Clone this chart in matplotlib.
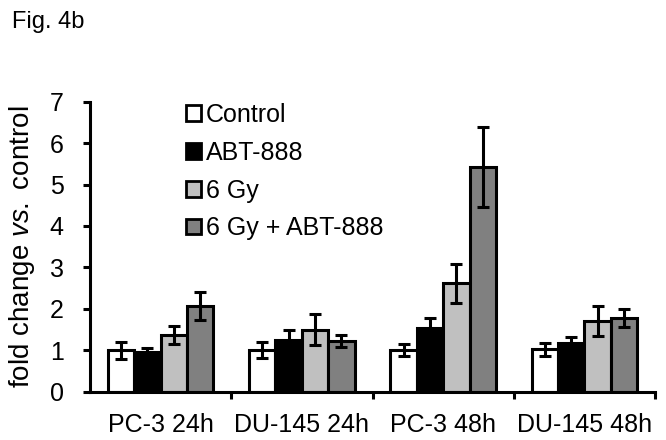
import numpy as np
import matplotlib
matplotlib.use("Agg")
import matplotlib.pyplot as plt

plt.rcParams["font.family"] = ["Liberation Sans", "DejaVu Sans"]
plt.rcParams["mathtext.fontset"] = "custom"
plt.rcParams["mathtext.rm"] = "Liberation Sans"
plt.rcParams["mathtext.it"] = "Liberation Sans:italic"

# data
groups = ["PC-3 24h", "DU-145 24h", "PC-3 48h", "DU-145 48h"]
series = ["Control", "ABT-888", "6 Gy", "6 Gy + ABT-888"]
control = [1.0, 1.01, 1.0, 1.02]
control_err = [0.21, 0.20, 0.14, 0.16]
abt = [0.96, 1.26, 1.53, 1.17]
abt_err = [0.10, 0.24, 0.26, 0.16]
gy6 = [1.37, 1.50, 2.62, 1.71]
gy6_err = [0.21, 0.37, 0.47, 0.37]
combo = [2.07, 1.22, 5.42, 1.77]
combo_err = [0.33, 0.14, 0.97, 0.22]

colors = ["white", "black", "#c0c0c0", "#808080"]
values = [control, abt, gy6, combo]
errors = [control_err, abt_err, gy6_err, combo_err]

fs = 18
fig = plt.figure(figsize=(6.66, 4.4), dpi=100)
ax = fig.add_axes([90 / 666, 1 - 391.7 / 440, 565 / 666, 290 / 440])

x = np.arange(len(groups))
w = 0.187
for i in range(4):
    ax.bar(x + (i - 1.5) * w, values[i], w, color=colors[i], edgecolor="black",
           linewidth=2.2, label=series[i], zorder=2)
    ax.errorbar(x + (i - 1.5) * w, values[i], yerr=errors[i], fmt="none",
                ecolor="black", elinewidth=2.2, capsize=4.6, capthick=2.2, zorder=3)

ax.set_xlim(-0.5, 3.5)
ax.set_ylim(0, 7)
ax.set_yticks(range(8))
ax.set_xticks(x)
ax.set_xticklabels(groups, fontsize=fs)
ax.set_xticks([0.5, 1.5, 2.5, 3.5], minor=True)
ax.tick_params(axis="x", which="major", length=0, pad=15)
ax.tick_params(axis="x", which="minor", length=5, width=2.2, direction="out")
ax.tick_params(axis="y", length=5, width=2.2, labelsize=fs, pad=14)
for s in ["top", "right"]:
    ax.spines[s].set_visible(False)
for s in ["left", "bottom"]:
    ax.spines[s].set_linewidth(2.2)

ax.set_ylabel(r"fold change $vs.$ control", fontsize=20, labelpad=9)

leg = ax.legend(loc="upper left", bbox_to_anchor=(186 / 666, 1 - 103 / 440),
                bbox_transform=fig.transFigure, frameon=False, fontsize=fs,
                handlelength=0.6, handleheight=0.6, handletextpad=0.2,
                labelspacing=0.55, borderpad=0, borderaxespad=0)
for p in leg.get_patches():
    p.set_linewidth(2)

fig.text(12 / 666, 1 - 28 / 440, "Fig. 4b", fontsize=17)

fig.savefig("out.png", dpi=100)
